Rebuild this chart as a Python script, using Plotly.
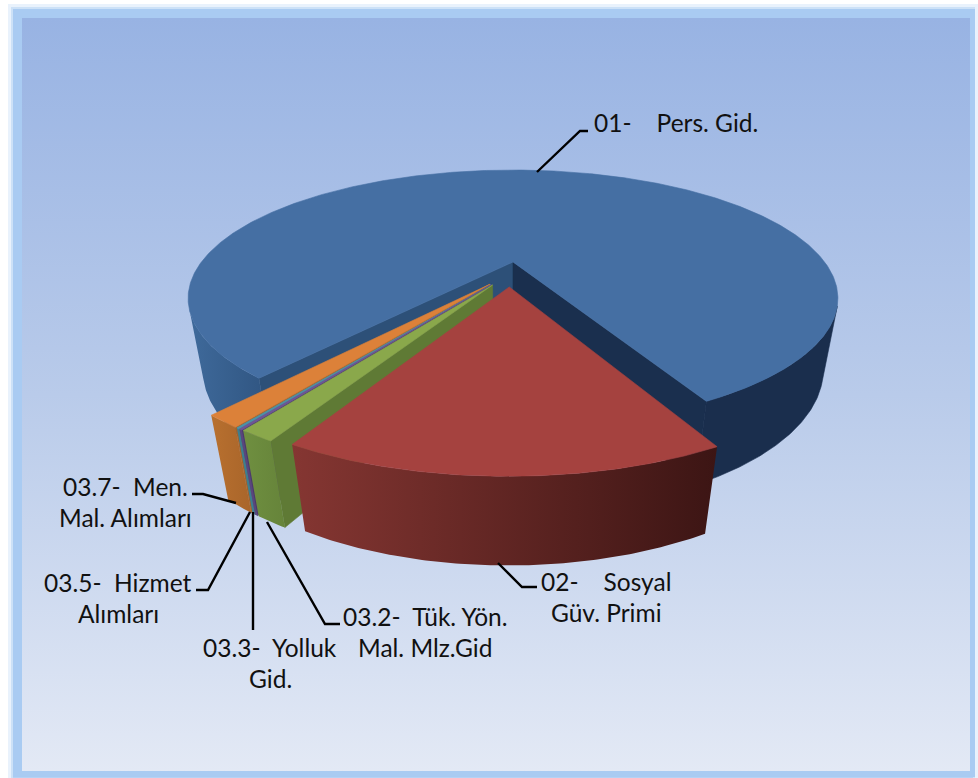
import math
import plotly.graph_objects as go

# ---- data ----
categories = ["01-\u00a0\u00a0\u00a0\u00a0Pers. Gid.", "02-\u00a0\u00a0\u00a0\u00a0Sosyal<br>Güv. Primi",
              "03.2-\u00a0\u00a0Tük. Yön.<br>Mal. Mlz.Gid", "03.3-\u00a0\u00a0Yolluk<br>Gid.",
              "03.5-\u00a0\u00a0Hizmet<br>Alımları", "03.7-\u00a0\u00a0Men.<br>Mal. Alımları"]
values = [81.3, 15.7, 1.35, 0.12, 0.13, 1.40]

top_colors = ["#456fa3", "#a5423f", "#8aa84b", "#6f5596", "#4a93a8", "#dc8139"]
wall_left = ["#3f6a9b", "#853632", "#6f8f40", "#5b447e", "#3c7e90", "#b8702f"]
wall_right = ["#1a2e4d", "#3c1514", "#66843a", "#5b447e", "#3c7e90", "#a9652a"]
face_colors = ["#2d5078", "#3c1514", "#5f7a35", "#4e3a6c", "#336e7e", "#a5622a"]
face_colors_far = ["#1a2f4e", "#3c1514", "#5f7a35", "#4e3a6c", "#336e7e", "#a5622a"]

# ---- pie geometry ----
START = 219.6     # clockwise degrees from the back of the pie
EXPLODE = 0.10
HEIGHT = 0.25
WALL_TAPER = 1.5
PITCH = math.radians(22.25)
DIST = 3.27
FOCAL = 1019.0
SCREEN_X, SCREEN_Y = 513.0, 262.0
total = sum(values)
mid0 = math.radians(START + values[0] / total * 180)
ORIGIN = (-EXPLODE * math.sin(mid0), -EXPLODE * math.cos(mid0))
CAMERA = (0.0, -DIST * math.cos(PITCH), DIST * math.sin(PITCH))


def project(x, y, z):
    up = y * math.sin(PITCH) + z * math.cos(PITCH)
    depth = DIST + y * math.cos(PITCH) - WALL_TAPER * z * math.sin(PITCH)
    return SCREEN_X + FOCAL * x / depth, SCREEN_Y - FOCAL * up / depth


def faces_camera(p, n):
    return sum((CAMERA[i] - p[i]) * n[i] for i in range(3)) > 0


def polygon(points, colour=None, gradient=None):
    xs, ys = zip(*[project(*p) for p in points])
    kw = dict(x=list(xs) + [xs[0]], y=list(ys) + [ys[0]], mode="lines", fill="toself",
              hoverinfo="skip", showlegend=False)
    if gradient:
        kw["fillgradient"] = dict(type="horizontal", colorscale=[[0, gradient[0]], [1, gradient[1]]])
        kw["line"] = dict(width=0)
    else:
        kw["fillcolor"] = colour
        kw["line"] = dict(width=0.6, color=colour)
    return go.Scatter(**kw)


def slice_traces(i, a0, a1):
    mid = math.radians((a0 + a1) / 2)
    ax = ORIGIN[0] + EXPLODE * math.sin(mid)
    ay = ORIGIN[1] + EXPLODE * math.cos(mid)
    n = max(int((a1 - a0) * 2), 2)
    angles = [math.radians(a0 + (a1 - a0) * k / n) for k in range(n + 1)]
    rim = lambda t, z: (ax + math.sin(t), ay + math.cos(t), z)
    out = []
    # radial cut faces
    for t, sign, col in ((angles[0], -1, face_colors[i]), (angles[-1], 1, face_colors_far[i])):
        normal = (sign * math.cos(t), -sign * math.sin(t), 0)
        if faces_camera((ax, ay, 0), normal):
            out.append(polygon([(ax, ay, 0), rim(t, 0), rim(t, -HEIGHT), (ax, ay, -HEIGHT)], col))
    # outer wall, only the runs that face the camera
    runs, cur = [], []
    for t in angles:
        if faces_camera(rim(t, -HEIGHT / 2), (math.sin(t), math.cos(t), 0)):
            cur.append(t)
        elif cur:
            runs.append(cur)
            cur = []
    if cur:
        runs.append(cur)
    for run in runs:
        pts = [rim(t, 0) for t in run] + [rim(t, -HEIGHT) for t in reversed(run)]
        if i == 0:
            if math.sin(run[0]) > 0:      # right of the pie
                out.append(polygon(pts, wall_right[0]))
            else:
                out.append(polygon(pts, gradient=(wall_left[0], "#2f5480")))
        else:
            out.append(polygon(pts, gradient=(wall_left[i], wall_right[i])))
    # top
    out.append(polygon([(ax, ay, 0)] + [rim(t, 0) for t in angles], top_colors[i]))
    return out


spans = []
a = START
for v in values:
    spans.append((a, a + v / total * 360))
    a += v / total * 360

fig = go.Figure()

# background panel
fig.add_trace(go.Scatter(x=[22, 970, 970, 22, 22], y=[18, 18, 771, 771, 18], mode="lines",
                         fill="toself", line=dict(width=0), hoverinfo="skip", showlegend=False,
                         fillgradient=dict(type="vertical",
                                           colorscale=[[0, "#e3e9f5"], [0.5, "#b9cbea"], [1, "#98b3e3"]])))

# far-to-near painter order
for i in [0, 5, 4, 3, 2, 1]:
    for tr in slice_traces(i, *spans[i]):
        fig.add_trace(tr)

# leader lines
leaders = [
    ([537, 580, 588], [172, 131, 131]),
    ([498, 522, 537], [563, 587, 587]),
    ([267, 325, 340], [522, 624, 624]),
    ([253, 253], [512, 630]),
    ([250, 208, 196], [512, 590, 590]),
    ([236, 203, 192], [503, 494, 494]),
]
for lx, ly in leaders:
    fig.add_trace(go.Scatter(x=lx, y=ly, mode="lines", line=dict(color="#000000", width=2.4),
                             hoverinfo="skip", showlegend=False))

# labels, one annotation per line so that the line gap is the reference's 31 px
label_pos = [(676, 122), (606, 581), (425, 616), (270, 647), (118, 582), (125, 486)]
LINE_GAP = 31
annotations = []
for t, (x, y) in zip(categories, label_pos):
    for k, line in enumerate(t.split("<br>")):
        annotations.append(dict(x=x, y=y + k * LINE_GAP, text=line, showarrow=False, xref="x", yref="y",
                                align="center",
                                font=dict(family="Lato, Carlito, sans-serif", size=24.5, color="#111111")))

# frame and glow
shapes = []
for inset, alpha in ((6, 0.25), (9, 0.45), (11, 0.7)):
    shapes.append(dict(type="rect", xref="x", yref="y", x0=2 + inset, y0=inset - 2, x1=980 - inset + 4, y1=780,
                       fillcolor=f"rgba(169,203,242,{alpha})", line=dict(width=0), layer="below"))
shapes.append(dict(type="rect", xref="x", yref="y", x0=13, y0=9, x1=975, y1=777,
                   fillcolor="#a9cbf2", line=dict(width=0), layer="below"))

fig.update_layout(width=978, height=778, margin=dict(l=0, r=0, t=0, b=0), autosize=False,
                  paper_bgcolor="#ffffff", plot_bgcolor="rgba(0,0,0,0)", showlegend=False,
                  xaxis=dict(range=[0, 978], visible=False, fixedrange=True),
                  yaxis=dict(range=[778, 0], visible=False, fixedrange=True),
                  annotations=annotations, shapes=shapes)

fig.write_html("out.html", config={"displayModeBar": False},
               post_script="document.body.style.margin='0';")
